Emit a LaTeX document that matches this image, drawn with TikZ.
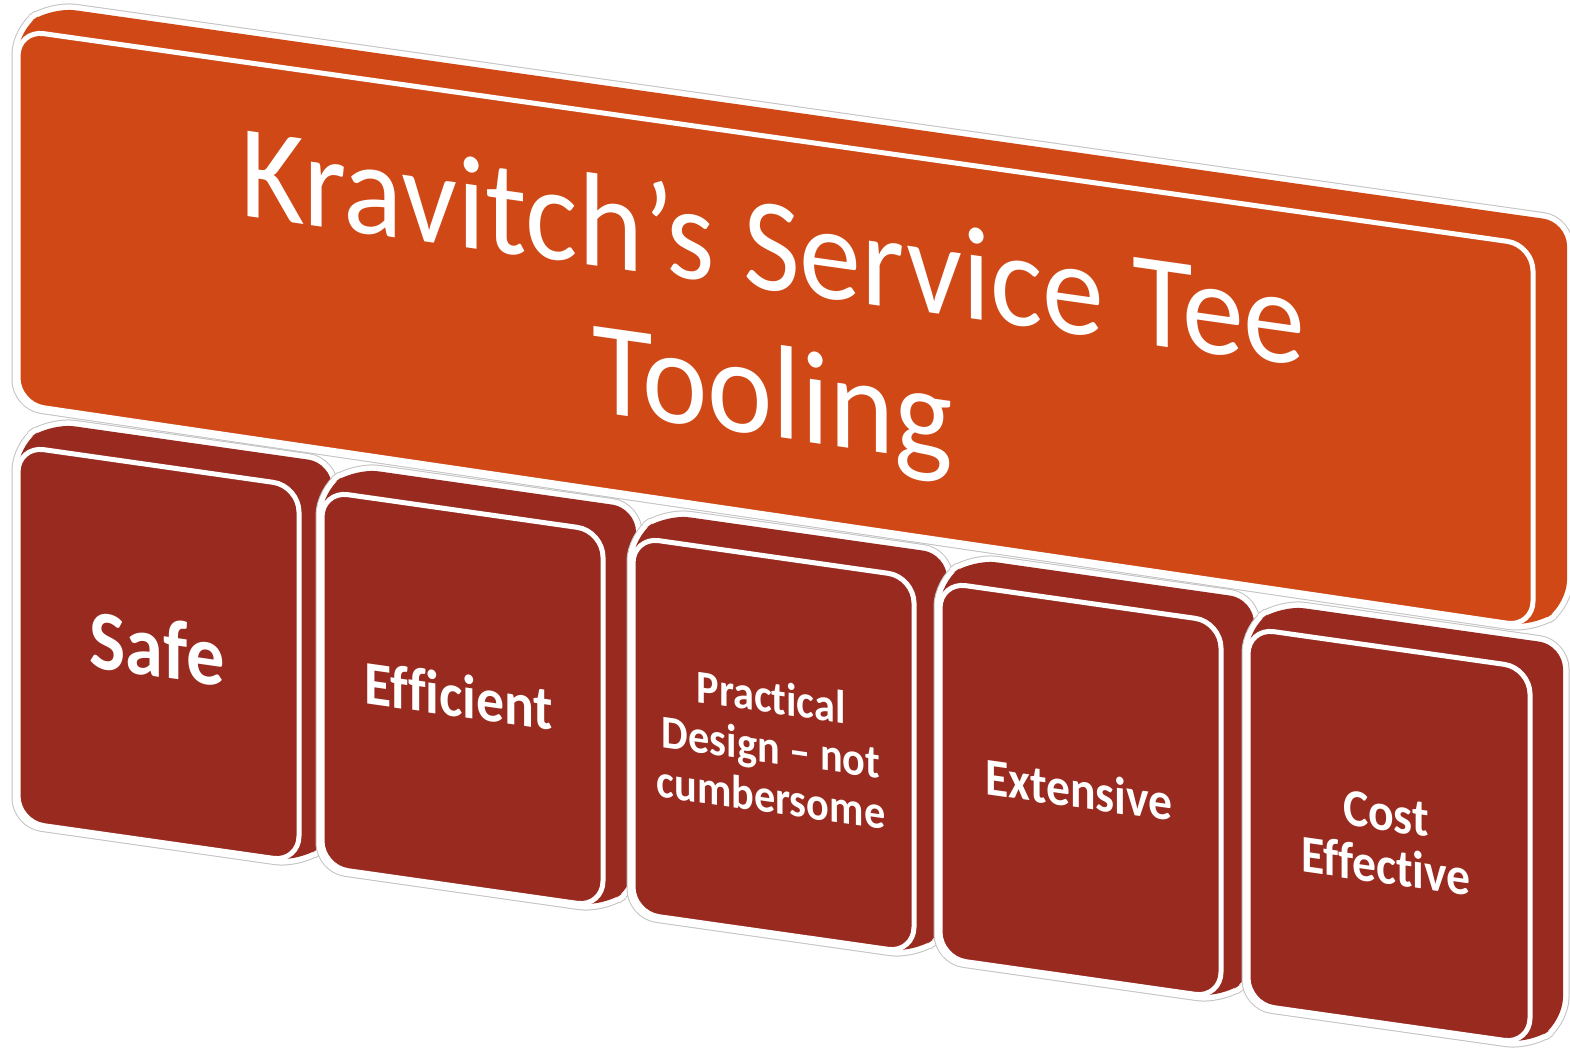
\documentclass[tikz,border=0pt]{standalone}
\usepackage{fontspec}
\setmainfont[Ligatures=NoCommon, RawFeature={-liga;-clig;-dlig}]{Carlito}
\usetikzlibrary{calc}
\definecolor{topor}{RGB}{208,72,22}
\definecolor{blkred}{RGB}{152,42,31}
\definecolor{halo}{RGB}{195,195,195}
\tikzset{
  halogray/.style={draw=halo, line width=13pt, rounded corners=24pt},
  halowhite/.style={draw=white, line width=11pt, rounded corners=24pt},
  hullfill/.style={rounded corners=24pt},
  frontface/.style={draw=white, line width=5pt, rounded corners=26pt},
  titleslant/.style={transform shape, cm={0.932,-0.1323,0,1,(0,0)}},
  blkslant/.style={transform shape, cm={0.9,-0.128,0,1,(0,0)}},
  titletext/.style={titleslant, anchor=base, text=white, inner sep=0pt, font=\fontsize{133}{146}\selectfont},
  blktext/.style={blkslant, anchor=base, text=white, inner sep=0pt, font=\bfseries\fontsize{#1}{#1}\selectfont},
  blktextml/.style 2 args={blkslant, anchor=base, text=white, inner sep=0pt, font=\bfseries\fontsize{#1}{#2}\selectfont},
}
% #1 name, #2 colour, #3 left x, #4 right x, #5 TL y, #6 TR y, #7 BL y, #8 BR y, #9 depth offset
\newcommand{\kblock}[9]{%
  \coordinate (#1tl) at (#3,#5);
  \coordinate (#1tr) at (#4,#6);
  \coordinate (#1br) at (#4,#8);
  \coordinate (#1bl) at (#3,#7);
  \coordinate (#1o) at (#9);
  \path[halogray] ($(#1tl)!0.5!(#1bl)$) -- (#1bl) -- (#1br) -- ($(#1br)+(#1o)$) -- ($(#1tr)+(#1o)$) -- ($(#1tl)+(#1o)$) -- (#1tl) -- cycle;
  \path[halowhite] ($(#1tl)!0.5!(#1bl)$) -- (#1bl) -- (#1br) -- ($(#1br)+(#1o)$) -- ($(#1tr)+(#1o)$) -- ($(#1tl)+(#1o)$) -- (#1tl) -- cycle;
  \path[hullfill, fill=#2] ($(#1tl)!0.5!(#1bl)$) -- (#1bl) -- (#1br) -- ($(#1br)+(#1o)$) -- ($(#1tr)+(#1o)$) -- ($(#1tl)+(#1o)$) -- (#1tl) -- cycle;
  \path[frontface, fill=#2] ($(#1tl)!0.5!(#1bl)$) -- (#1bl) -- (#1br) -- (#1tr) -- (#1tl) -- cycle;
}
\begin{document}
\begin{tikzpicture}[x=1pt, y=-1pt]
\useasboundingbox (0,0) rectangle (1570,1048);
\fill[white] (0,0) rectangle (1570,1048);

% lower blocks
\kblock{b1}{blkred}{18}{299}{446}{486}{822}{862}{33,-23}
\kblock{b2}{blkred}{322}{603}{491}{531}{867}{907}{33,-23}
\kblock{b3}{blkred}{633}{914}{537}{577}{913}{953}{33,-23}
\kblock{b4}{blkred}{940}{1221}{582}{622}{958}{998}{33,-23}
\kblock{b5}{blkred}{1248}{1530}{628}{668}{1004}{1044}{33,-23}

% top block
\kblock{tb}{topor}{18}{1533}{30}{245}{404}{627}{34,-23}

% title text (baseline of first line at the shift point)
\begin{scope}[shift={(773,291)}]
  \node[titletext] (title) at (0,0) {\begin{tabular}[t]{@{}c@{}}Kravitch’s Service Tee\\Tooling\end{tabular}};
\end{scope}

% block texts
\begin{scope}[shift={(157,677)}]
  \node[blktext=85] (safe) at (0,0) {Safe};
\end{scope}
\begin{scope}[shift={(459,717)}]
  \node[blktext=62] (eff) at (0,0) {Efficient};
\end{scope}
\begin{scope}[shift={(771,713)}]
  \node[blktextml={47}{50}] (prac) at (0,0) {\begin{tabular}[t]{@{}c@{}}Practical\\Design – not\\cumbersome\end{tabular}};
\end{scope}
\begin{scope}[shift={(1079,808)}]
  \node[blktext=53] (ext) at (0,0) {Extensive};
\end{scope}
\begin{scope}[shift={(1386,831)}]
  \node[blktextml={53}{52}] (cost) at (0,0) {\begin{tabular}[t]{@{}c@{}}Cost\\Effective\end{tabular}};
\end{scope}
\end{tikzpicture}
\end{document}
